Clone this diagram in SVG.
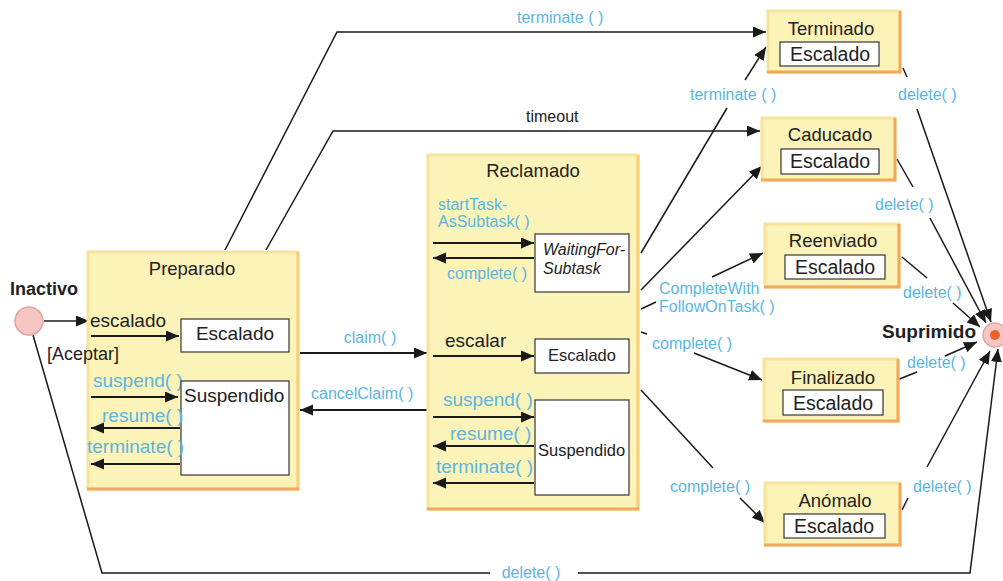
<svg xmlns="http://www.w3.org/2000/svg" width="1003" height="581" viewBox="0 0 1003 581">
<defs>
<marker id="arr" markerUnits="userSpaceOnUse" markerWidth="14" markerHeight="12" refX="13" refY="5.5" orient="auto"><path d="M0,0 L13,5.5 L0,11 z" fill="#1a1a1a"/></marker>
</defs>
<style>
text{font-family:"Liberation Sans",Arial,Helvetica,sans-serif;fill:#222}
.t{font-size:18.5px;text-anchor:middle}
.big{font-size:19px}
.bl{font-size:16px;fill:#5ab6e2}
.blb{font-size:19px;fill:#5ab6e2}
.sm{font-size:16px}
.esc{font-size:19.5px;text-anchor:middle}
.b{font-weight:bold}
.st{fill:#fcf3b9;stroke:#f8e39c;stroke-width:3}
.sh{fill:none;stroke:#f2a95a;stroke-width:3}
.shl{fill:none;stroke:#f5cf7a;stroke-width:3}
.in{fill:#fff;stroke:#444;stroke-width:1.3}
.c{fill:none;stroke:#1a1a1a;stroke-width:1.5}
.a{fill:none;stroke:#1a1a1a;stroke-width:2;marker-end:url(#arr)}
.ca{fill:none;stroke:#1a1a1a;stroke-width:1.5;marker-end:url(#arr)}
</style>
<rect width="1003" height="581" fill="#fff"/>

<g id="connectors">
<polyline class="ca" points="225,250 337,32 766,32"/>
<polyline class="ca" points="266,250 333,131 760,131"/>
<line class="ca" x1="44" y1="321" x2="89" y2="321"/>
<polyline class="c" points="33,335 102,573 490,573"/>
<polyline class="ca" points="578,573 970,573 998,349"/>
<line class="a" x1="300" y1="353" x2="427" y2="353"/>
<line class="a" x1="427" y1="410" x2="300" y2="410"/>
<line class="c" x1="641" y1="253" x2="727" y2="108"/>
<line class="ca" x1="745" y1="80" x2="766" y2="47"/>
<line class="ca" x1="641" y1="290" x2="762" y2="166"/>
<line class="c" x1="641" y1="309" x2="656" y2="302"/>
<line class="ca" x1="712" y1="277" x2="763" y2="253"/>
<line class="c" x1="641" y1="332" x2="647" y2="334"/>
<line class="ca" x1="694" y1="353" x2="762" y2="380"/>
<line class="c" x1="641" y1="390" x2="713" y2="468"/>
<line class="ca" x1="740" y1="498" x2="765" y2="523"/>
<line class="c" x1="903" y1="68" x2="907" y2="77"/>
<line class="ca" x1="917" y1="109" x2="991" y2="322"/>
<line class="c" x1="897" y1="159" x2="913" y2="187"/>
<line class="ca" x1="930" y1="218" x2="986" y2="323"/>
<line class="c" x1="902" y1="257" x2="927" y2="278"/>
<line class="ca" x1="953" y1="303" x2="980" y2="327"/>
<line class="c" x1="897" y1="380" x2="917" y2="372"/>
<line class="ca" x1="945" y1="356" x2="977" y2="342"/>
<line class="c" x1="902" y1="510" x2="908" y2="498"/>
<line class="ca" x1="927" y1="467" x2="990" y2="351"/>
<text class="bl" x="517" y="23">terminate ( )</text>
<text class="sm" x="526" y="122">timeout</text>
<text class="bl" x="370" y="343" text-anchor="middle">claim( )</text>
<text class="bl" x="311" y="399">cancelClaim( )</text>
<text class="bl" x="690" y="100">terminate ( )</text>
<text class="bl" x="659" y="294">CompleteWith</text>
<text class="bl" x="659" y="312">FollowOnTask( )</text>
<text class="bl" x="652" y="349">complete( )</text>
<text class="bl" x="670" y="492">complete( )</text>
<text class="bl" x="898" y="100">delete( )</text>
<text class="bl" x="875" y="210">delete( )</text>
<text class="bl" x="903" y="298">delete( )</text>
<text class="bl" x="907" y="368">delete( )</text>
<text class="bl" x="913" y="492">delete( )</text>
<text class="bl" x="531" y="578" text-anchor="middle">delete( )</text>
</g>

<g id="inactivo">
<circle cx="29" cy="321" r="14" fill="#f6c6c4" stroke="#e3a49e" stroke-width="1.5"/>
<text class="b" x="10" y="295" font-size="18">Inactivo</text>
</g>

<g id="suprimido">
<circle cx="995" cy="335" r="12" fill="#f6c6c4" stroke="#e3a49e" stroke-width="1.5"/>
<circle cx="995" cy="335" r="5" fill="#e8642c"/>
<text class="b" x="976" y="338" font-size="19" text-anchor="end">Suprimido</text>
</g>

<g id="preparado">
<rect class="st" x="88" y="252" width="210" height="237"/>
<line class="shl" x1="298" y1="252" x2="298" y2="489"/>
<line class="sh" x1="87" y1="489" x2="299" y2="489"/>
<text class="t" x="192" y="275" font-size="19">Preparado</text>
<text class="big" x="90" y="327">escalado</text>
<line class="a" x1="91" y1="336" x2="179" y2="336"/>
<rect class="in" x="181" y="319" width="108" height="33"/>
<text class="big" x="235" y="340" text-anchor="middle">Escalado</text>
<text x="47" y="360" font-size="18">[Aceptar]</text>
<text class="blb" x="93" y="387">suspend( )</text>
<line class="a" x1="91" y1="397" x2="178" y2="397"/>
<rect class="in" x="181" y="381" width="108" height="94"/>
<text class="big" x="184" y="402">Suspendido</text>
<text class="blb" x="102" y="422">resume( )</text>
<line class="a" x1="180" y1="428" x2="91" y2="428"/>
<text class="blb" x="87" y="453">terminate( )</text>
<line class="a" x1="180" y1="464" x2="91" y2="464"/>
</g>

<g id="reclamado">
<rect class="st" x="428" y="155" width="210" height="354"/>
<line class="shl" x1="638" y1="155" x2="638" y2="509"/>
<line class="sh" x1="427" y1="509" x2="639" y2="509"/>
<text class="t" x="533" y="177" font-size="19">Reclamado</text>
<text class="bl" x="438" y="210">startTask-</text>
<text class="bl" x="438" y="227">AsSubtask( )</text>
<line class="a" x1="433" y1="243" x2="534" y2="243"/>
<line class="a" x1="534" y1="258" x2="433" y2="258"/>
<text class="bl" x="447" y="279">complete( )</text>
<rect class="in" x="535" y="234" width="94" height="58"/>
<text class="sm" x="543" y="255" font-style="italic">WaitingFor-</text>
<text class="sm" x="543" y="274" font-style="italic">Subtask</text>
<text class="big" x="445" y="347">escalar</text>
<line class="a" x1="433" y1="356" x2="534" y2="356"/>
<rect class="in" x="535" y="339" width="94" height="34"/>
<text x="582" y="361" font-size="16.5" text-anchor="middle">Escalado</text>
<text class="blb" x="443" y="406">suspend( )</text>
<line class="a" x1="433" y1="417" x2="534" y2="417"/>
<rect class="in" x="535" y="400" width="94" height="95"/>
<text x="538" y="456" font-size="16.5">Suspendido</text>
<text class="blb" x="450" y="440">resume( )</text>
<line class="a" x1="534" y1="446" x2="433" y2="446"/>
<text class="blb" x="436" y="473">terminate( )</text>
<line class="a" x1="534" y1="483" x2="433" y2="483"/>
</g>

<g id="terminado">
<rect class="st" x="768" y="11" width="132" height="61"/>
<polyline class="sh" points="900,11 900,72 767,72"/>
<text class="t" x="831" y="35">Terminado</text>
<rect class="in" x="780" y="42" width="99" height="24"/>
<text class="esc" x="830" y="61">Escalado</text>
</g>

<g id="caducado">
<rect class="st" x="762" y="118" width="133" height="62"/>
<polyline class="sh" points="895,118 895,180 761,180"/>
<text class="t" x="830" y="141">Caducado</text>
<rect class="in" x="781" y="149" width="98" height="25"/>
<text class="esc" x="830" y="168">Escalado</text>
</g>

<g id="reenviado">
<rect class="st" x="765" y="224" width="134" height="63"/>
<polyline class="sh" points="899,224 899,287 764,287"/>
<text class="t" x="833" y="247">Reenviado</text>
<rect class="in" x="785" y="255" width="100" height="24"/>
<text class="esc" x="835" y="274">Escalado</text>
</g>

<g id="finalizado">
<rect class="st" x="764" y="359" width="134" height="62"/>
<polyline class="sh" points="898,359 898,421 763,421"/>
<text class="t" x="833" y="384">Finalizado</text>
<rect class="in" x="783" y="390" width="100" height="25"/>
<text class="esc" x="833" y="410">Escalado</text>
</g>

<g id="anomalo">
<rect class="st" x="765" y="483" width="135" height="62"/>
<polyline class="sh" points="900,483 900,545 764,545"/>
<text class="t" x="835" y="507">Anómalo</text>
<rect class="in" x="784" y="514" width="101" height="24"/>
<text class="esc" x="834" y="533">Escalado</text>
</g>
</svg>
